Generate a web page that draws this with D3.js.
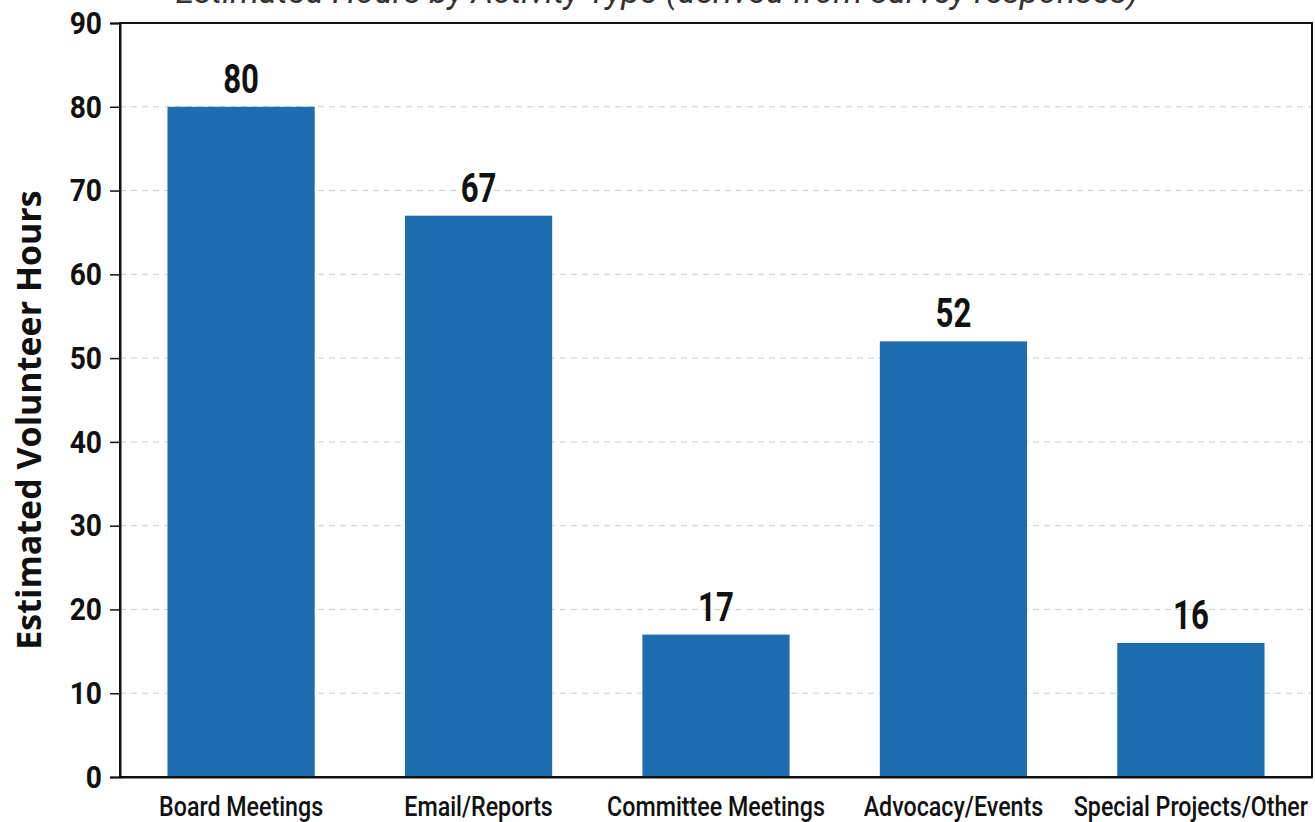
<!DOCTYPE html>
<html>
<head>
<meta charset="utf-8">
<script src="https://cdn.jsdelivr.net/npm/d3@7"></script>
<style>
  body { margin: 0; background: #fff; }
  svg { display: block; }
</style>
</head>
<body>
<div id="chart"></div>
<script>
const categories = ['Board Meetings', 'Email/Reports', 'Committee Meetings', 'Advocacy/Events', 'Special Projects/Other'];
const hours = [80, 67, 17, 52, 16];
const yTicks = [0, 10, 20, 30, 40, 50, 60, 70, 80, 90];

const width = 1315, height = 822;
const margin = { top: 23, right: 3, bottom: 45, left: 120 };

const svg = d3.select('#chart')
  .append('svg')
  .attr('width', width)
  .attr('height', height);

const x = d3.scaleBand()
  .domain(categories)
  .range([margin.left, width - margin.right])
  .paddingInner(0.38)
  .paddingOuter(0.2);

const y = d3.scaleLinear()
  .domain([0, 90])
  .range([height - margin.bottom, margin.top]);

// title, mostly above the visible area like in the source image
svg.append('text')
  .attr('x', 657)
  .attr('y', 3)
  .attr('text-anchor', 'middle')
  .attr('font-family', 'Roboto, sans-serif')
  .attr('font-style', 'italic')
  .attr('font-size', 34)
  .attr('fill', '#333')
  .text('Estimated Hours by Activity Type (derived from survey responses)');

// grid
svg.append('g')
  .selectAll('line')
  .data(yTicks.filter(d => d > 0 && d < 90))
  .enter()
  .append('line')
  .attr('x1', margin.left)
  .attr('x2', width - margin.right)
  .attr('y1', d => y(d))
  .attr('y2', d => y(d))
  .attr('stroke', '#cfcfcf')
  .attr('stroke-width', 1)
  .attr('stroke-dasharray', '6,5');

// bars
svg.append('g')
  .selectAll('rect')
  .data(categories)
  .enter()
  .append('rect')
  .attr('x', d => x(d))
  .attr('width', x.bandwidth())
  .attr('y', (d, i) => y(hours[i]))
  .attr('height', (d, i) => y(0) - y(hours[i]))
  .attr('fill', '#1f6db1');

// value labels (condensed look via horizontal squeeze)
svg.append('g')
  .selectAll('text')
  .data(categories)
  .enter()
  .append('text')
  .attr('transform', (d, i) => `translate(${x(d) + x.bandwidth() / 2},${y(hours[i]) - 14}) scale(0.78,1)`)
  .attr('text-anchor', 'middle')
  .attr('font-family', 'Roboto, sans-serif')
  .attr('font-weight', 'bold')
  .attr('font-size', 40)
  .attr('fill', '#111')
  .text((d, i) => hours[i]);

// frame
svg.append('rect')
  .attr('x', margin.left)
  .attr('y', margin.top)
  .attr('width', width - margin.right - margin.left)
  .attr('height', y(0) - margin.top)
  .attr('fill', 'none')
  .attr('stroke', '#111')
  .attr('stroke-width', 2);

// y axis
const yAxis = svg.append('g')
  .attr('transform', `translate(${margin.left},0)`)
  .call(d3.axisLeft(y).tickValues(yTicks).tickSize(10).tickPadding(8));
yAxis.select('.domain').attr('stroke', '#111').attr('stroke-width', 2);
yAxis.selectAll('.tick line').attr('stroke', '#111').attr('stroke-width', 1.5);
yAxis.selectAll('.tick text')
  .attr('font-family', 'Roboto, sans-serif')
  .attr('font-weight', 'bold')
  .attr('font-size', 32)
  .attr('fill', '#111')
  .attr('transform', 'translate(-18,0) scale(0.88,1) translate(18,0)');

// x axis
const xAxis = svg.append('g')
  .attr('transform', `translate(0,${y(0)})`)
  .call(d3.axisBottom(x).tickSize(0).tickPadding(19));
xAxis.select('.domain').attr('stroke', '#111').attr('stroke-width', 2);
xAxis.selectAll('.tick text')
  .attr('font-family', 'Roboto, sans-serif')
  .attr('font-weight', 500)
  .attr('font-size', 28)
  .attr('fill', '#111')
  .attr('transform', 'scale(0.83,1)');

// y label
svg.append('text')
  .attr('transform', `translate(41,${(margin.top + y(0)) / 2 + 20}) rotate(-90)`)
  .attr('text-anchor', 'middle')
  .attr('font-family', '"Open Sans", sans-serif')
  .attr('font-weight', 'bold')
  .attr('font-size', 34)
  .attr('fill', '#111')
  .text('Estimated Volunteer Hours');
</script>
</body>
</html>
